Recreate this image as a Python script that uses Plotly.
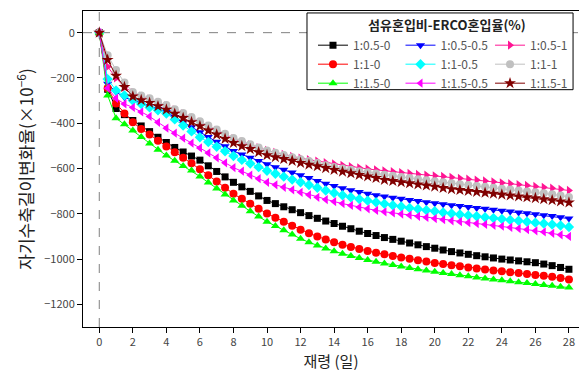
import plotly.graph_objects as go

days = [i * 0.5 for i in range(57)]

names = ["1:0.5-0", "1:0.5-0.5", "1:0.5-1",
         "1:1-0", "1:1-0.5", "1:1-1",
         "1:1.5-0", "1:1.5-0.5", "1:1.5-1"]

s_05_0 = [0, -250, -335, -362, -388, -412, -437, -462, -485, -507,
          -527, -545, -563, -588, -613, -637, -661, -681, -701, -721,
          -741, -755, -769, -782, -795, -808, -820, -832, -843, -855,
          -866, -877, -887, -896, -905, -913, -921, -929, -937, -945,
          -952, -960, -967, -973, -979, -985, -990, -995, -1000, -1004,
          -1008, -1012, -1016, -1022, -1029, -1037, -1045]
s_05_05 = [0, -226, -262, -285, -300, -312, -325, -337, -350, -372,
           -395, -418, -440, -461, -482, -502, -523, -538, -552, -567,
           -581, -594, -606, -618, -630, -642, -655, -667, -677, -687,
           -696, -704, -711, -718, -724, -729, -734, -739, -744, -749,
           -753, -758, -762, -766, -770, -774, -778, -782, -786, -790,
           -794, -798, -802, -806, -810, -815, -821]
s_05_1 = [0, -150, -200, -240, -265, -280, -293, -308, -323, -341,
          -359, -377, -395, -414, -432, -451, -469, -482, -495, -508,
          -520, -529, -538, -546, -554, -561, -567, -574, -580, -586,
          -592, -597, -602, -606, -610, -614, -618, -622, -626, -629,
          -632, -635, -639, -643, -647, -651, -655, -659, -663, -667,
          -671, -675, -679, -683, -687, -692, -697]
s_1_0 = [0, -245, -313, -357, -396, -425, -450, -477, -503, -528,
         -552, -577, -603, -630, -657, -685, -712, -734, -756, -778,
         -799, -817, -835, -853, -870, -886, -900, -914, -926, -937,
         -947, -956, -964, -972, -979, -986, -993, -999, -1005, -1011,
         -1017, -1022, -1027, -1032, -1037, -1042, -1046, -1050, -1054, -1058,
         -1062, -1066, -1070, -1074, -1078, -1084, -1090]
s_1_05 = [0, -205, -255, -277, -300, -315, -330, -343, -357, -383,
          -410, -436, -462, -483, -504, -524, -545, -562, -578, -594,
          -610, -623, -636, -649, -661, -673, -685, -697, -708, -718,
          -727, -735, -742, -749, -756, -762, -768, -774, -779, -784,
          -789, -794, -799, -803, -807, -811, -815, -819, -823, -827,
          -831, -835, -839, -843, -847, -852, -858]
s_1_1 = [0, -100, -165, -220, -262, -278, -290, -305, -320, -338,
         -355, -373, -391, -410, -428, -447, -465, -479, -493, -507,
         -520, -530, -540, -550, -559, -567, -576, -586, -593, -600,
         -606, -612, -617, -622, -627, -632, -637, -642, -647, -652,
         -656, -661, -665, -669, -673, -677, -681, -685, -689, -693,
         -697, -701, -705, -709, -714, -719, -726]
s_15_0 = [0, -277, -378, -405, -432, -461, -490, -517, -543, -566,
          -589, -609, -635, -662, -688, -715, -741, -765, -789, -812,
          -835, -854, -873, -892, -910, -926, -940, -953, -965, -976,
          -986, -995, -1004, -1012, -1019, -1026, -1033, -1039, -1045, -1051,
          -1056, -1061, -1066, -1071, -1076, -1081, -1086, -1090, -1094, -1098,
          -1102, -1106, -1110, -1114, -1118, -1122, -1126]
s_15_05 = [0, -245, -290, -315, -330, -350, -370, -396, -422, -444,
           -466, -488, -509, -531, -553, -575, -596, -612, -629, -645,
           -661, -672, -683, -694, -705, -716, -727, -737, -746, -755,
           -763, -771, -778, -785, -791, -796, -801, -806, -811, -816,
           -821, -826, -831, -835, -839, -843, -847, -851, -855, -860,
           -865, -870, -875, -880, -886, -893, -900]
s_15_1 = [0, -120, -190, -240, -282, -298, -310, -325, -340, -358,
          -377, -395, -413, -432, -450, -469, -487, -501, -514, -528,
          -541, -550, -558, -566, -575, -583, -590, -598, -606, -614,
          -621, -628, -635, -642, -650, -655, -660, -665, -670, -675,
          -680, -686, -691, -695, -699, -703, -707, -711, -715, -719,
          -723, -727, -731, -735, -740, -745, -750]

series = [s_05_0, s_05_05, s_05_1, s_1_0, s_1_05, s_1_1, s_15_0, s_15_05, s_15_1]
colors = ["#000000", "#0000ff", "#ff1493", "#ff0000", "#00ffff", "#c0c0c0",
          "#00ff00", "#ff00ff", "#800000"]
symbols = ["square", "triangle-down", "triangle-right", "circle", "diamond",
           "circle", "triangle-up", "triangle-left", "star"]
sizes = [7, 8, 8, 8, 8, 8, 8, 8, 9]
legend_ids = ["legend", "legend2", "legend3"] * 3

legend_title = "섬유혼입비-ERCO혼입율(%)"
x_ticks = list(range(0, 29, 2))
y_ticks = [0, -200, -400, -600, -800, -1000, -1200]

fig = go.Figure()
for name, vals, c, sym, sz, lg in zip(names, series, colors, symbols, sizes, legend_ids):
    fig.add_trace(go.Scatter(
        x=days, y=vals, name=name, mode="lines+markers",
        line=dict(color=c, width=1),
        marker=dict(symbol=sym, size=sz, color=c, line=dict(width=0)),
        legend=lg,
    ))

fig.add_hline(y=0, line=dict(color="#808080", width=1, dash="dash"), layer="below")
fig.add_vline(x=0, line=dict(color="#808080", width=1, dash="dash"), layer="below")

# legend frame and title
fig.add_shape(type="rect", xref="paper", yref="paper",
              x0=0.4516, x1=0.988, y0=0.751, y1=0.9938,
              line=dict(color="#000000", width=1), fillcolor="white", layer="below")
fig.add_annotation(text="<b>" + legend_title + "</b>", xref="paper", yref="paper",
                   x=0.734, y=0.956, xanchor="center", yanchor="middle",
                   showarrow=False, font=dict(size=13, color="#222222"))

font_family = "Noto Sans CJK KR"
leg_common = dict(orientation="v", yanchor="top", xanchor="left",
                  bgcolor="rgba(0,0,0,0)", borderwidth=0,
                  font=dict(size=12, color="#555555"), itemwidth=30,
                  tracegroupgap=0)
fig.update_layout(
    width=579, height=371,
    margin=dict(l=83, r=0, t=11, b=39),
    paper_bgcolor="white", plot_bgcolor="white",
    font=dict(family=font_family, color="#333333", size=12),
    showlegend=True,
    legend=dict(x=0.4637, y=0.9377, **leg_common),
    legend2=dict(x=0.6401, y=0.9377, **leg_common),
    legend3=dict(x=0.8206, y=0.9377, **leg_common),
    xaxis=dict(
        range=[-0.97, 28.6], tickvals=x_ticks, ticktext=[str(v) for v in x_ticks],
        showgrid=False, zeroline=False, showline=True, linecolor="#000000",
        linewidth=1, mirror=True, ticks="outside", ticklen=5, tickcolor="#000000",
        tickfont=dict(size=11, color="#444444"),
        title=dict(text="재령 (일)", font=dict(size=15, color="#222222"), standoff=11),
    ),
    yaxis=dict(
        range=[-1300, 95.7], tickvals=y_ticks,
        ticktext=[str(v).replace("-", "−") for v in y_ticks],
        showgrid=False, zeroline=False, showline=True, linecolor="#000000",
        linewidth=1, mirror=False, ticks="outside", ticklen=5, tickcolor="#000000",
        tickfont=dict(size=11, color="#444444"),
        title=dict(text="자기수축길이변화율(×10<sup>−6</sup>)",
                   font=dict(size=17, color="#222222"), standoff=6),
    ),
)

fig.write_html("out.html")
